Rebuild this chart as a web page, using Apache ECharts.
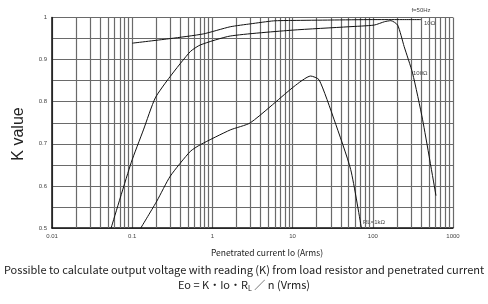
<!DOCTYPE html>
<html>
<head>
<meta charset="utf-8">
<script src="https://cdn.jsdelivr.net/npm/echarts@6/dist/echarts.min.js"></script>
<style>
  html, body { margin: 0; padding: 0; background: #fff; }
  #chart { width: 488px; height: 304px; }
</style>
</head>
<body>
<div id="chart"></div>
<script>
// K value vs penetrated current, f = 50Hz
const cur10 = [0.1, 0.3, 0.77, 1.67, 3, 5.8, 10, 30, 100, 200, 400];
const k10 = [0.939, 0.950, 0.961, 0.978, 0.985, 0.992, 0.993, 0.994, 0.995, 0.995, 0.995];

const cur100 = [0.0546, 0.097, 0.138, 0.194, 0.298, 0.53, 0.71, 1.67, 10, 50, 104, 140, 168, 204, 246, 313, 418, 613];
const k100 = [0.5, 0.655, 0.733, 0.809, 0.86, 0.919, 0.935, 0.956, 0.970, 0.978, 0.982, 0.99, 0.9925, 0.982, 0.931, 0.868, 0.757, 0.577];

const cur1k = [0.128, 0.203, 0.298, 0.53, 0.71, 1.67, 2.98, 10.4, 16.8, 21.4, 33, 53, 72];
const k1k = [0.5, 0.564, 0.623, 0.682, 0.698, 0.733, 0.75, 0.836, 0.861, 0.852, 0.757, 0.639, 0.5];

const decades = [0.01, 0.1, 1, 10, 100];
const minorSteps = [2, 3, 4, 5, 6, 7, 8, 9];

const pairs = (xs, ys) => xs.map((x, i) => [x, ys[i]]);
const minorLines = [];
decades.forEach(d => minorSteps.forEach(m => minorLines.push({ xAxis: +(d * m).toPrecision(3) })));

const gridColor = '#6a6a6a';
const curve = (name, xs, ys) => ({
  name: name,
  type: 'line',
  data: pairs(xs, ys),
  smooth: 0.2,
  symbol: 'none',
  lineStyle: { color: '#111', width: 1 },
  z: 5
});

const chart = echarts.init(document.getElementById('chart'));
const s10 = curve('10Ω', cur10, k10);
s10.markLine = {
  silent: true,
  symbol: 'none',
  label: { show: false },
  lineStyle: { color: gridColor, width: 1.2, type: 'solid' },
  data: minorLines,
  z: 1
};

chart.setOption({
  animation: false,
  grid: { left: 52, right: 35, top: 17.5, bottom: 76 },
  xAxis: {
    type: 'log',
    logBase: 10,
    min: 0.01,
    max: 1000,
    axisLine: { show: true, lineStyle: { color: '#111', width: 1.5 } },
    axisTick: { show: false },
    axisLabel: { fontSize: 6, color: '#444', margin: 5, fontFamily: 'Liberation Sans',
      formatter: v => String(v) },
    splitLine: { show: true, lineStyle: { color: gridColor, width: 1.2 } }
  },
  yAxis: {
    type: 'value',
    min: 0.5,
    max: 1,
    interval: 0.05,
    axisLine: { show: true, lineStyle: { color: '#111', width: 1.5 } },
    axisTick: { show: false },
    axisLabel: {
      fontSize: 6, color: '#444', margin: 5, fontFamily: 'Liberation Sans',
      formatter: v => (Math.round(v * 100) % 10 === 0 ? String(+v.toFixed(1)) : '')
    },
    splitLine: { show: true, lineStyle: { color: gridColor, width: 1.2 } }
  },
  series: [s10, curve('100Ω', cur100, k100), curve('1kΩ', cur1k, k1k)],
  graphic: [
    { type: 'text', x: 19, y: 134, rotation: Math.PI / 2,
      style: { text: 'K value', font: '16px "Liberation Sans"', fill: '#222', align: 'center', verticalAlign: 'middle' } },
    { type: 'text', x: 267, y: 253,
      style: { text: 'Penetrated current Io (Arms)', font: '8.5px "Noto Sans CJK JP"', fill: '#222', align: 'center', verticalAlign: 'middle' } },
    { type: 'text', x: 244, y: 270,
      style: { text: 'Possible to calculate output voltage with reading (K) from load resistor and penetrated current', font: '11px "Noto Sans CJK JP"', fill: '#222', align: 'center', verticalAlign: 'middle' } },
    { type: 'text', x: 244, y: 285,
      style: {
        text: 'Eo = K・Io・R{sub|L} ／ n (Vrms)', font: '11px "Noto Sans CJK JP"', fill: '#222', align: 'center', verticalAlign: 'middle',
        rich: { sub: { fontSize: 7, fontFamily: 'Noto Sans CJK JP', fill: '#222', padding: [6, 0, 0, 0] } }
      } },
    { type: 'text', x: 421, y: 10,
      style: { text: 'f=50Hz', font: '6px "Liberation Sans"', fill: '#444', align: 'center', verticalAlign: 'middle' } },
    { type: 'text', x: 424, y: 23,
      style: { text: '10Ω', font: '6px "Liberation Sans"', fill: '#444', align: 'left', verticalAlign: 'middle' } },
    { type: 'text', x: 413, y: 73,
      style: { text: '100Ω', font: '6px "Liberation Sans"', fill: '#444', align: 'left', verticalAlign: 'middle' } },
    { type: 'text', x: 363, y: 222,
      style: { text: 'RL=1kΩ', font: '6px "Liberation Sans"', fill: '#444', align: 'left', verticalAlign: 'middle' } }
  ]
});
</script>
</body>
</html>
